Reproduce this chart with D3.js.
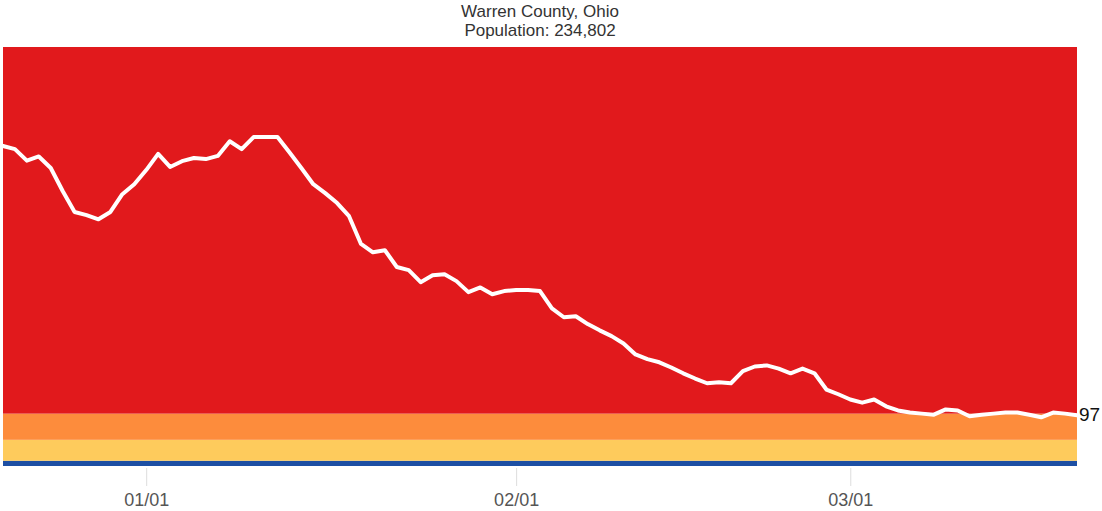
<!DOCTYPE html>
<html>
<head>
<meta charset="utf-8">
<script src="https://cdn.jsdelivr.net/npm/d3@7"></script>
<style>
  body { margin: 0; background: #fff; }
  text { font-family: "Liberation Sans", Arial, sans-serif; }
</style>
</head>
<body>
<script>
// title lines
var titleLines = ["Warren County, Ohio", "Population: 234,802"];

// daily cases per 100k (14 day), starting 2020-12-20
var startDay = "2020-12-20";
var caseRate = [611, 605, 583, 591, 569, 525, 485, 479, 471, 485,
  519, 538, 565, 596, 571, 582, 588, 586, 592, 620,
  605, 628, 628, 628, 599, 569, 538, 521, 502, 477,
  424, 408, 412, 380, 374, 351, 364, 366, 353, 332,
  341, 328, 334, 336, 336, 334, 301, 284, 286, 271,
  259, 248, 234, 213, 204, 198, 188, 177, 167, 158,
  160, 158, 181, 190, 192, 186, 177, 186, 177, 146,
  137, 127, 121, 127, 114, 106, 102, 100, 98, 108,
  106, 95, 98, 100, 102, 102, 98, 93, 102, 100, 97];

// risk bands (lower, upper) and their colours
var bandBreaks = [0, 10, 50, 100, 800];
var bandColors = ["#1d4fa3", "#fecb5c", "#fd8c3c", "#e1191c"];

// tick dates and labels
var tickDates = ["2021-01-01", "2021-02-01", "2021-03-01"];
var tickLabels = ["01/01", "02/01", "03/01"];

var width = 1102, height = 511;
var margin = {top: 47, right: 25, bottom: 45, left: 3};

var parse = d3.timeParse("%Y-%m-%d");
var t0 = parse(startDay);
var data = caseRate.map(function(v, i) {
  return {date: d3.timeDay.offset(t0, i), value: v};
});

var svg = d3.select("body").append("svg")
  .attr("width", width)
  .attr("height", height);

var x = d3.scaleTime()
  .domain(d3.extent(data, function(d) { return d.date; }))
  .range([margin.left, width - margin.right]);

var y = d3.scaleLinear()
  .domain([0, 800])
  .range([height - margin.bottom, margin.top]);

// coloured bands
svg.append("g").selectAll("rect")
  .data(bandColors)
  .enter().append("rect")
  .attr("x", x.range()[0])
  .attr("width", x.range()[1] - x.range()[0])
  .attr("y", function(d, i) { return y(bandBreaks[i + 1]); })
  .attr("height", function(d, i) { return y(bandBreaks[i]) - y(bandBreaks[i + 1]); })
  .attr("fill", function(d) { return d; });

// the line
var line = d3.line()
  .x(function(d) { return x(d.date); })
  .y(function(d) { return y(d.value); });

svg.append("path")
  .datum(data)
  .attr("d", line)
  .attr("fill", "none")
  .attr("stroke", "#fff")
  .attr("stroke-width", 4)
  .attr("stroke-linejoin", "round")
  .attr("stroke-linecap", "round");

// last value label
var last = data[data.length - 1];
svg.append("text")
  .attr("x", x(last.date) + 2)
  .attr("y", y(last.value) + 1)
  .attr("dominant-baseline", "middle")
  .attr("font-size", 19)
  .attr("fill", "#111")
  .text(last.value);

// x axis
var xAxis = d3.axisBottom(x)
  .tickValues(tickDates.map(parse))
  .tickSize(18)
  .tickPadding(7)
  .tickFormat(function(d, i) { return tickLabels[i]; });

var gX = svg.append("g")
  .attr("transform", "translate(0," + (height - margin.bottom + 2) + ")")
  .call(xAxis);
gX.select(".domain").remove();
gX.selectAll(".tick line").attr("stroke", "#ddd");
gX.selectAll(".tick text")
  .attr("font-size", 18)
  .attr("fill", "#555")
  .style("font-family", "'Liberation Sans', Arial, sans-serif");

// title
svg.append("g").selectAll("text")
  .data(titleLines)
  .enter().append("text")
  .attr("x", (x.range()[0] + x.range()[1]) / 2)
  .attr("y", function(d, i) { return 17 + i * 19; })
  .attr("text-anchor", "middle")
  .attr("font-size", 17)
  .attr("fill", "#333")
  .text(function(d) { return d; });
</script>
</body>
</html>
